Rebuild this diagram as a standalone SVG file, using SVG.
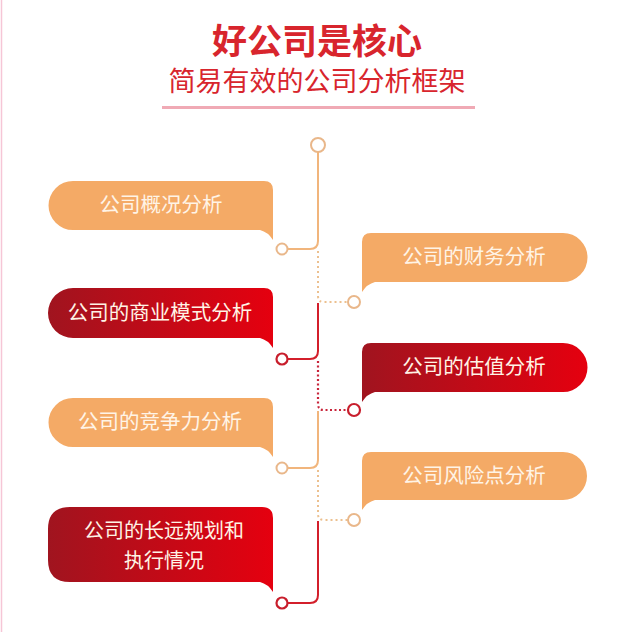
<svg xmlns="http://www.w3.org/2000/svg" width="632" height="632" viewBox="0 0 632 632">
<defs>
<linearGradient id="redL" x1="0" y1="0" x2="1" y2="0">
<stop offset="0" stop-color="#a0141f"/>
<stop offset="1" stop-color="#e5000f"/>
</linearGradient>
<style>
.t{font-family:"Noto Sans CJK SC","Noto Sans",sans-serif;}
.title{font-size:35px;font-weight:bold;fill:#d8252d;}
.sub{font-size:27px;fill:#d8252d;}
.lbl{font-size:20.5px;fill:#fff4e6;text-anchor:middle;}
.lbl2{font-size:20px;}
.orange{fill:#f4aa66;}
.red{fill:url(#redL);}
.so{fill:none;stroke:#f1b57c;stroke-width:2;}
.sr{fill:none;stroke:#d31f2b;stroke-width:2;}
.do{fill:none;stroke:#ecc08f;stroke-width:2;stroke-dasharray:2 3;}
.dr{fill:none;stroke:#c8243a;stroke-width:2.2;stroke-dasharray:2 2.5;}
.co{fill:#fff;stroke:#e9b78a;stroke-width:2;}
.cr{fill:#fff;stroke:#c81e2c;stroke-width:2.2;}
</style>
</defs>
<rect width="632" height="632" fill="#fff"/>
<line x1="1.5" y1="0" x2="1.5" y2="632" stroke="#f6c6d6" stroke-width="1.5"/>

<g id="title">
<text class="t title" x="317" y="54" text-anchor="middle">好公司是核心</text>
<text class="t sub" x="317" y="91" text-anchor="middle">简易有效的公司分析框架</text>
<rect x="162" y="106" width="313" height="3" fill="#f0aab5"/>
</g>

<g id="connectors">
<circle class="co" cx="318" cy="145" r="7"/>
<path class="so" d="M318,152 V241 Q318,249 310,249 H288"/>
<circle class="co" cx="282" cy="249" r="5.5"/>
<path class="do" d="M318,251 V296 Q318,302 324,302 H348"/>
<circle class="co" cx="354" cy="302" r="6"/>
<path class="sr" d="M318,303 V351 Q318,359 310,359 H288"/>
<circle class="cr" cx="282" cy="359" r="5.5"/>
<path class="dr" d="M318,361 V404 Q318,410 324,410 H348"/>
<circle class="cr" cx="354" cy="410" r="6"/>
<path class="so" d="M318,411 V460 Q318,468 310,468 H288"/>
<circle class="co" cx="282" cy="468" r="5.5"/>
<path class="do" d="M318,470 V514 Q318,520 324,520 H348"/>
<circle class="co" cx="354" cy="520" r="6"/>
<path class="sr" d="M318,521 V595 Q318,603 310,603 H288"/>
<circle class="cr" cx="282" cy="603" r="5.5"/>
</g>

<g id="n1">
<path class="orange" d="M73,181 H264 Q273,181 273,190 V240 Q268,232 260,230 H73 A24.5,24.5 0 0 1 73,181 Z"/>
<text class="t lbl" x="161" y="212">公司概况分析</text>
</g>

<g id="n2">
<path class="orange" d="M371,233 H563 A24.5,24.5 0 0 1 563,282 H375 Q367,284 362,292 V242 Q362,233 371,233 Z"/>
<text class="t lbl" x="474" y="264">公司的财务分析</text>
</g>

<g id="n3">
<path class="red" d="M73,288 H264 Q273,288 273,297 V348 Q268,340 260,338 H73 A25,25 0 0 1 73,288 Z"/>
<text class="t lbl" x="160" y="320">公司的商业模式分析</text>
</g>

<g id="n4">
<path class="red" d="M371,343 H563 A24.5,24.5 0 0 1 563,392 H375 Q367,394 362,402 V352 Q362,343 371,343 Z"/>
<text class="t lbl" x="474" y="374">公司的估值分析</text>
</g>

<g id="n5">
<path class="orange" d="M73,398 H264 Q273,398 273,407 V457 Q268,449 260,447 H73 A24.5,24.5 0 0 1 73,398 Z"/>
<text class="t lbl" x="160" y="429">公司的竞争力分析</text>
</g>

<g id="n6">
<path class="orange" d="M371,452 H563 A24,24 0 0 1 563,500 H375 Q367,502 362,510 V461 Q362,452 371,452 Z"/>
<text class="t lbl" x="474" y="483">公司风险点分析</text>
</g>

<g id="n7">
<path class="red" d="M70,507 H262 Q273,507 273,518 V592 Q268,584 260,582 H70 Q48,582 48,560 V529 Q48,507 70,507 Z"/>
<text class="t lbl lbl2" x="164" y="538">公司的长远规划和</text>
<text class="t lbl lbl2" x="164" y="567.5">执行情况</text>
</g>
</svg>
